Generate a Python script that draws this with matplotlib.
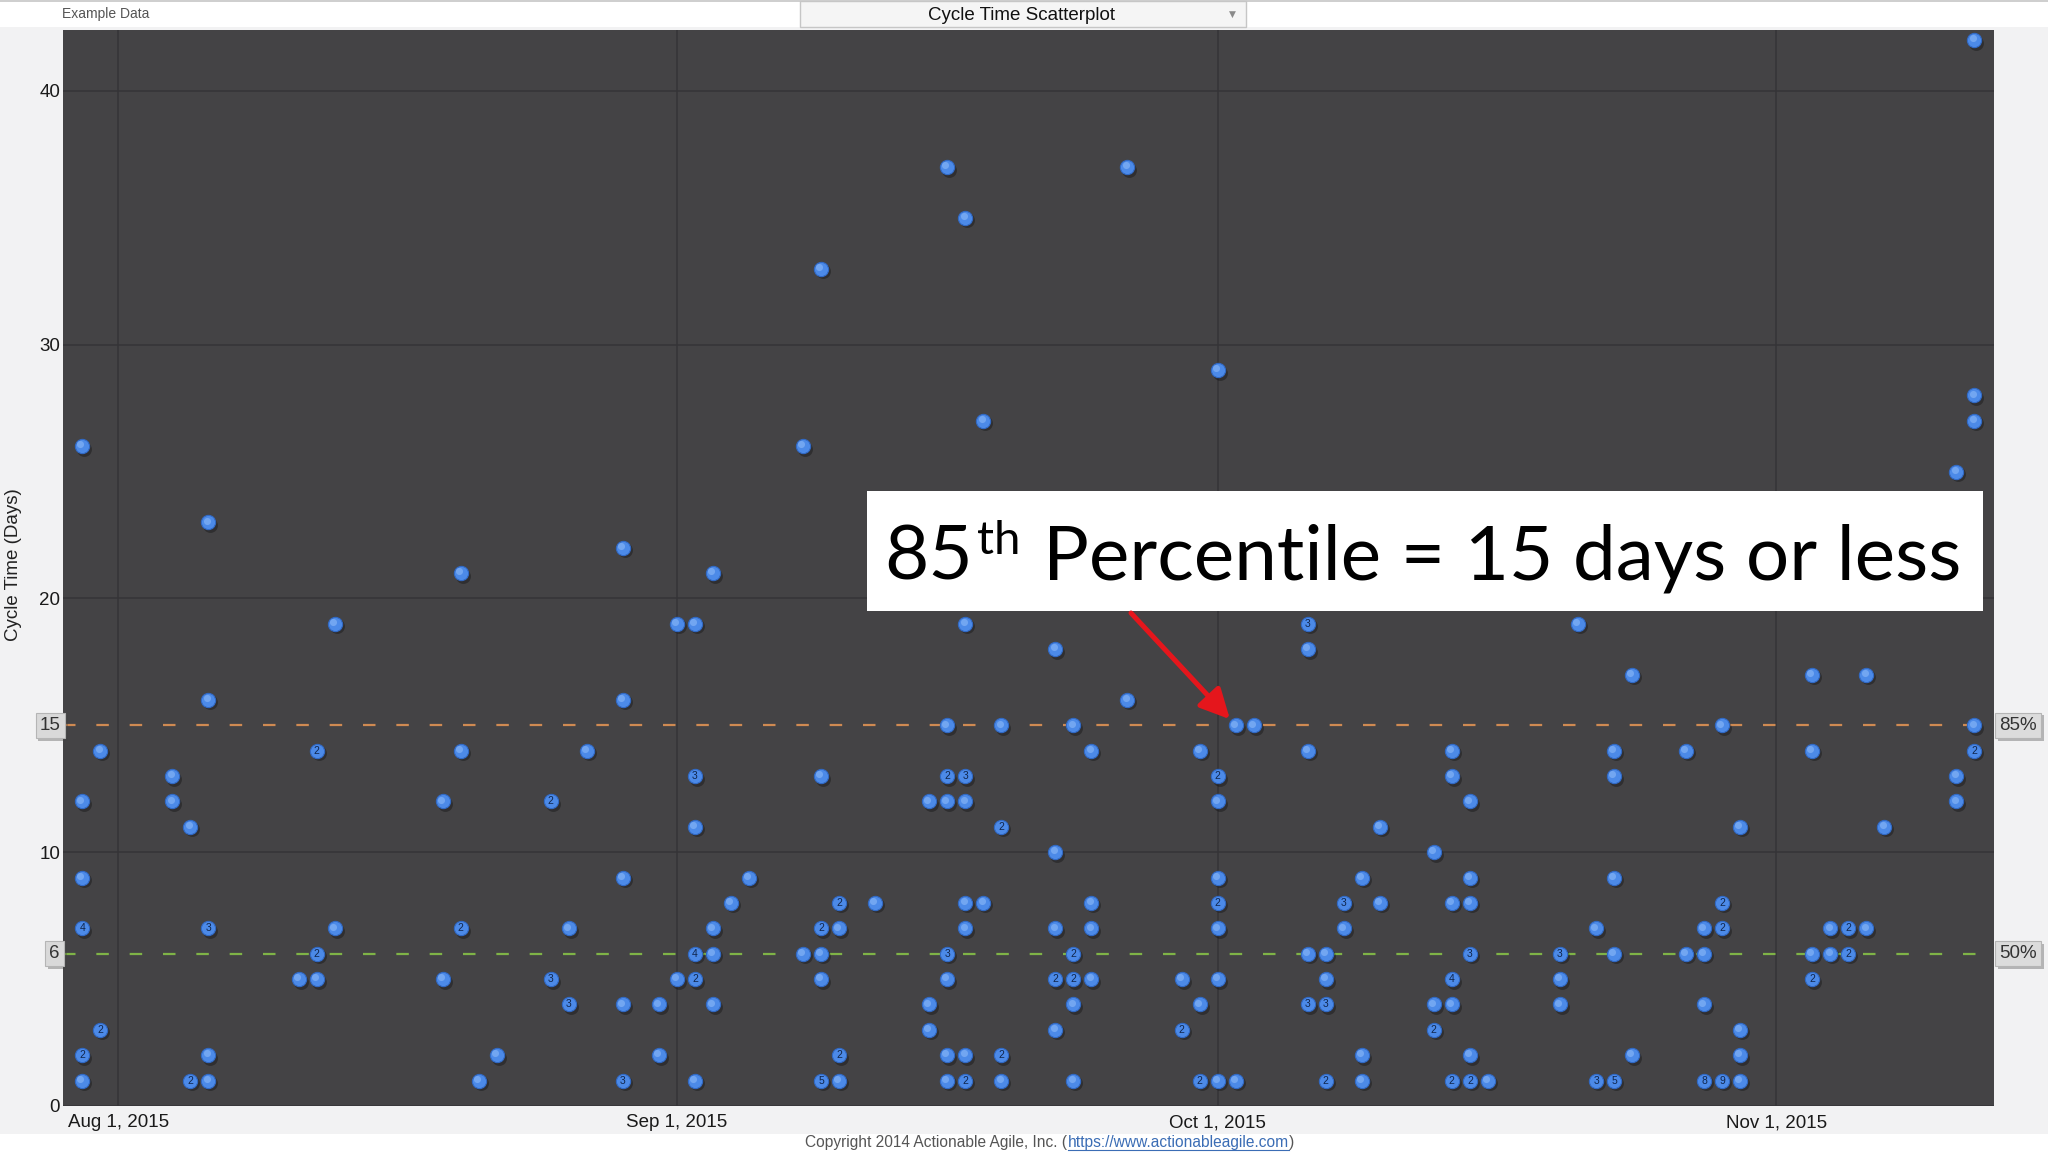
#!/usr/bin/env python3
"""Cycle time scatterplot with 50th / 85th percentile lines."""

import numpy as np
import matplotlib

matplotlib.use("Agg")
import matplotlib.pyplot as plt
import matplotlib.dates as mdates
import matplotlib.patheffects as pe
from matplotlib.patches import Rectangle
from matplotlib.transforms import offset_copy, blended_transform_factory

W, H = 2048, 1152
UI_FONT = ["Liberation Sans", "DejaVu Sans"]
BIG_FONT = ["Lato", "DejaVu Sans"]

# one entry per completion date; values = cycle time (days), counts = items stacked on that dot
col_dates = [
    "2015-07-30", "2015-07-31", "2015-08-04", "2015-08-05", "2015-08-06",
    "2015-08-11", "2015-08-12", "2015-08-13", "2015-08-19", "2015-08-20",
    "2015-08-21", "2015-08-22", "2015-08-25", "2015-08-26", "2015-08-27",
    "2015-08-29", "2015-08-31", "2015-09-01", "2015-09-02", "2015-09-03",
    "2015-09-04", "2015-09-05", "2015-09-08", "2015-09-09", "2015-09-10",
    "2015-09-12", "2015-09-15", "2015-09-16", "2015-09-17", "2015-09-18",
    "2015-09-19", "2015-09-22", "2015-09-23", "2015-09-24", "2015-09-26",
    "2015-09-29", "2015-09-30", "2015-10-01", "2015-10-02", "2015-10-03",
    "2015-10-06", "2015-10-07", "2015-10-08", "2015-10-09", "2015-10-10",
    "2015-10-13", "2015-10-14", "2015-10-15", "2015-10-16", "2015-10-20",
    "2015-10-21", "2015-10-22", "2015-10-23", "2015-10-24", "2015-10-27",
    "2015-10-28", "2015-10-29", "2015-10-30", "2015-11-03", "2015-11-04",
    "2015-11-05", "2015-11-06", "2015-11-07", "2015-11-11", "2015-11-12",
]
col_values = [
    [26, 12, 9, 7, 2, 1], [14, 3], [13, 12], [11, 1], [23, 16, 7, 2, 1],
    [5], [14, 6, 5], [19, 7], [12, 5], [21, 14, 7],
    [1], [2], [12, 5], [7, 4], [14],
    [22, 16, 9, 4, 1], [4, 2], [19, 5], [19, 13, 11, 6, 5, 1], [21, 7, 6, 4],
    [8], [9], [26, 6], [33, 13, 7, 6, 5, 1], [8, 7, 2, 1],
    [8], [12, 4, 3], [37, 15, 13, 12, 6, 5, 2, 1], [35, 19, 13, 12, 8, 7, 2, 1], [27, 8],
    [15, 11, 2, 1], [18, 10, 7, 5, 3], [15, 6, 5, 4, 1], [14, 8, 7, 5], [37, 16],
    [5, 3], [14, 4, 1], [29, 13, 12, 9, 8, 7, 5, 1], [15, 1], [15],
    [19, 18, 14, 6, 4], [6, 5, 4, 1], [8, 7], [9, 2, 1], [11, 8],
    [10, 4, 3], [14, 13, 8, 5, 4, 1], [12, 9, 8, 6, 2, 1], [1], [6, 5, 4],
    [19], [7, 1], [14, 13, 9, 6, 1], [17, 2], [14, 6],
    [7, 6, 4, 1], [15, 8, 7, 1], [11, 3, 2, 1], [17, 14, 6, 5], [7, 6],
    [7, 6], [17, 7], [11], [25, 13, 12], [42, 28, 27, 15, 14],
]
col_counts = [
    [1, 1, 1, 4, 2, 1], [1, 2], [1, 1], [1, 2], [1, 1, 3, 1, 1],
    [1], [2, 2, 1], [1, 1], [1, 1], [1, 1, 2],
    [1], [1], [2, 3], [1, 3], [1],
    [1, 1, 1, 1, 3], [1, 1], [1, 1], [1, 3, 1, 4, 2, 1], [1, 1, 1, 1],
    [1], [1], [1, 1], [1, 1, 2, 1, 1, 5], [2, 1, 2, 1],
    [1], [1, 1, 1], [1, 1, 2, 1, 3, 1, 1, 1], [1, 1, 3, 1, 1, 1, 1, 2], [1, 1],
    [1, 2, 2, 1], [1, 1, 1, 2, 1], [1, 2, 2, 1, 1], [1, 1, 1, 1], [1, 1],
    [1, 2], [1, 1, 2], [1, 2, 1, 1, 2, 1, 1, 1], [1, 1], [1],
    [3, 1, 1, 1, 3], [1, 1, 3, 2], [3, 1], [1, 1, 1], [1, 1],
    [1, 1, 2], [1, 1, 1, 4, 1, 2], [1, 1, 1, 3, 1, 2], [1], [3, 1, 1],
    [1], [1, 3], [1, 1, 1, 1, 5], [1, 1], [1, 1],
    [1, 1, 1, 8], [1, 2, 2, 9], [1, 1, 1, 1], [1, 1, 1, 2], [1, 1],
    [2, 2], [1, 1], [1], [1, 1, 1], [1, 1, 1, 1, 2],
]

P50 = 6
P85 = 15
y_ticks = [0, 10, 20, 30, 40]
callout_date = "2015-10-02"


def fx(px):
    return px / W


def fy(py):
    return 1 - py / H


def dnum(s):
    return mdates.date2num(np.datetime64(s))


def flatten():
    xs, ys, ns = [], [], []
    for d, vals, cnts in zip(col_dates, col_values, col_counts):
        for v, c in zip(vals, cnts):
            xs.append(dnum(d))
            ys.append(v)
            ns.append(c)
    return np.array(xs), np.array(ys, float), np.array(ns)


def chrome(fig, renderer):
    # top bar, dropdown, bottom strip and copyright line
    fig.add_artist(Rectangle((0, fy(27)), 1, 27 / H, transform=fig.transFigure, fc="white", ec="none", zorder=-1))
    fig.add_artist(Rectangle((0, fy(2)), 1, 2 / H, transform=fig.transFigure, fc="#cfcfcf", ec="none", zorder=-1))
    fig.add_artist(Rectangle((0, 0), 1, 18 / H, transform=fig.transFigure, fc="white", ec="none", zorder=-1))
    fig.add_artist(Rectangle((fx(800), fy(27)), 445.5 / W, 26 / H, transform=fig.transFigure,
                             fc="#f5f5f5", ec="#c6c6c6", lw=1, zorder=0))
    fig.text(fx(62.5), fy(14), "Example Data", fontsize=10, color="#555555", ha="left", va="center")
    fig.text(fx(1021), fy(15), "Cycle Time Scatterplot", fontsize=13.5, color="#111111", ha="center", va="center")
    fig.text(fx(1232.6), fy(14), "\u25bc", fontsize=6.5, color="#8a8a8a", ha="center", va="center",
             family=["DejaVu Sans"])
    fig.text(fx(13.5), fy(565), "Cycle Time (Days)", fontsize=13.5, color="#222222", rotation=90,
             ha="center", va="center")

    # copyright with link
    x = 805.0
    pieces = [("Copyright 2014 Actionable Agile, Inc. (", "#555555", False),
              ("https://www.actionableagile.com", "#3b6db5", True),
              (")", "#555555", False)]
    for s, col, link in pieces:
        t = fig.text(fx(x), fy(1142), s, fontsize=11.2, color=col, ha="left", va="center")
        bb = t.get_window_extent(renderer)
        if link:
            fig.add_artist(plt.Line2D([fx(bb.x0), fx(bb.x1)], [bb.y0 / H - 0.5 / H] * 2,
                                      transform=fig.transFigure, color=col, lw=0.8))
        x = bb.x1 + 0.5


def big_label(fig, renderer):
    # "85th Percentile = 15 days or less", fitted to the box width
    left, right, base = 884.4, 1962.5, 579.4

    def build(size):
        em = size * 100 / 72
        arts = []
        x = left
        for s, scale, rise, gap in [("85", 1.0, 0.0, 0.05), ("th", 0.62, 0.33, 0.3),
                                    ("Percentile = 15 days or less", 1.0, 0.0, 0.0)]:
            t = fig.text(fx(x), fy(base - rise * em), s, fontsize=size * scale, family=BIG_FONT,
                         color="black", ha="left", va="baseline", zorder=12)
            bb = t.get_window_extent(renderer)
            arts.append(t)
            x = bb.x1 + gap * em
        return arts, x

    arts, end = build(60)
    k = (right - left) / (end - left)
    for a in arts:
        a.remove()
    build(60 * k)


def main():
    plt.rcParams.update({"font.family": UI_FONT, "lines.scale_dashes": False})
    fig = plt.figure(figsize=(W / 100, H / 100), dpi=100, facecolor="#f2f2f3")
    renderer = fig.canvas.get_renderer()
    ax = fig.add_axes([fx(63), fy(1106), (1994.3 - 63) / W, (1106 - 30) / H])
    ax.set_facecolor("#444345")
    for s in ax.spines.values():
        s.set_visible(False)

    xs, ys, ns = flatten()
    shadow = offset_copy(ax.transData, fig=fig, x=2, y=-2.5, units="dots")
    glint = offset_copy(ax.transData, fig=fig, x=-1.8, y=1.8, units="dots")
    ax.scatter(xs, ys, s=115, color="black", alpha=0.3, linewidths=0, transform=shadow, zorder=3)
    ax.scatter(xs, ys, s=105, color="#4c8ae8", edgecolors="#3169c4", linewidths=0.8, zorder=4)
    single = ns == 1
    ax.scatter(xs[single], ys[single], s=26, color="#8cbaf8", alpha=0.6, linewidths=0, transform=glint, zorder=5)
    for xi, yi, ni in zip(xs, ys, ns):
        if ni > 1:
            ax.text(xi, yi, str(ni), fontsize=7.5, color="#10264d", ha="center", va="center", zorder=6)

    ax.axhline(P85, color="#cf8a52", lw=1.6, dashes=(9, 15), zorder=2)
    ax.axhline(P50, color="#7fb347", lw=1.6, dashes=(9, 15), zorder=2)

    ax.set_xlim(dnum("2015-08-01") - 3.07, dnum("2015-10-01") + 43.1)
    ax.set_ylim(0, 42.4)
    ax.xaxis.set_major_locator(mdates.MonthLocator())
    ax.xaxis.set_major_formatter(mdates.DateFormatter("%b %-d, %Y"))
    ax.set_yticks(y_ticks)
    ax.tick_params(axis="x", length=0, pad=6, labelsize=13.5, labelcolor="#1a1a1a")
    ax.tick_params(axis="y", length=0, pad=2, labelsize=13.5, labelcolor="#1a1a1a")
    ax.grid(True, color="#353437", lw=1.1)
    ax.set_axisbelow(True)

    # boxed percentile labels on both sides
    trans = blended_transform_factory(fig.transFigure, ax.transData)
    shadow_fx = [pe.withSimplePatchShadow(offset=(2, -2), alpha=0.35)]
    for val, txt, xr in [(P85, "15", 60.6), (P50, "6", 60.0)]:
        t = ax.text(fx(xr), val, txt, transform=trans, ha="right", va="center", fontsize=13.5, color="#333333",
                    bbox=dict(boxstyle="square,pad=0.22", fc="#d9d9d9", ec="#b5b5b5", lw=0.8), zorder=8, clip_on=False)
        t.get_bbox_patch().set_path_effects(shadow_fx)
    for val, txt in [(P85, "85%"), (P50, "50%")]:
        t = ax.text(fx(1999.6), val, txt, transform=trans, ha="left", va="center", fontsize=13.5, color="#333333",
                    bbox=dict(boxstyle="square,pad=0.22", fc="#dcdcdc", ec="#b5b5b5", lw=0.8), zorder=8, clip_on=False)
        t.get_bbox_patch().set_path_effects(shadow_fx)

    # callout box and arrow
    ax.add_patch(Rectangle((fx(866.5), fy(610.5)), (1983 - 866.5) / W, (610.5 - 491) / H,
                           transform=fig.transFigure, fc="white", ec="none", zorder=10, clip_on=False))
    ax.annotate("", xy=(dnum(callout_date), P85), xycoords="data",
                xytext=(fx(1131), fy(613)), textcoords="figure fraction",
                arrowprops=dict(arrowstyle="-|>,head_length=0.9,head_width=0.45", color="#e5161c", lw=3.6,
                                mutation_scale=20, shrinkA=0, shrinkB=6),
                zorder=11)

    chrome(fig, renderer)
    big_label(fig, renderer)

    fig.savefig("out.png", dpi=100, facecolor=fig.get_facecolor())
    plt.close(fig)


if __name__ == "__main__":
    main()
